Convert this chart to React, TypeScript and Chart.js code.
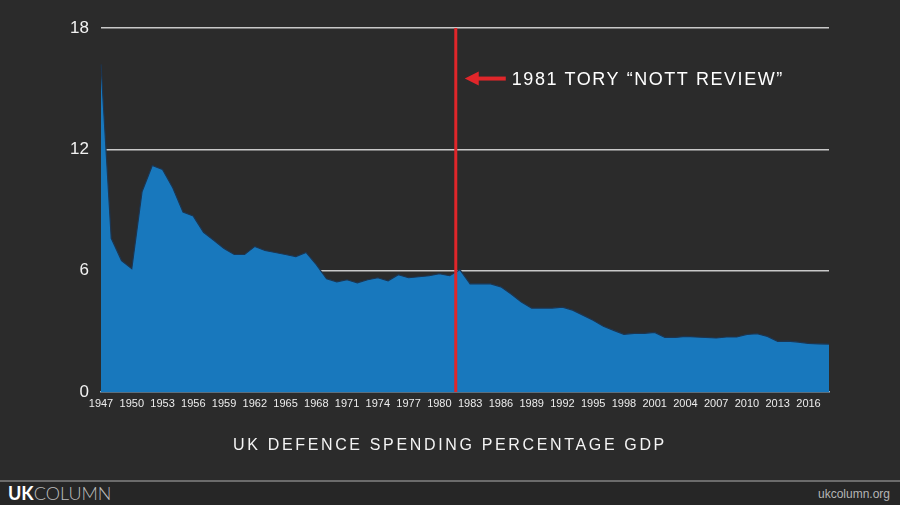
import React, { useEffect, useRef } from "react";
import { Chart, registerables } from "chart.js";

Chart.register(...registerables);

const years: string[] = [];
for (let y = 1947; y <= 2018; y++) years.push(String(y));

const spending: number[] = [
  16.2, 7.6, 6.5, 6.1, 9.9, 11.2, 11.0, 10.1, 8.9, 8.7,
  7.9, 7.5, 7.1, 6.8, 6.8, 7.2, 7.0, 6.9, 6.8, 6.7,
  6.9, 6.3, 5.6, 5.45, 5.55, 5.4, 5.55, 5.65, 5.5, 5.8,
  5.65, 5.7, 5.75, 5.85, 5.75, 6.05, 5.35, 5.35, 5.35, 5.2,
  4.85, 4.45, 4.15, 4.15, 4.15, 4.2, 4.05, 3.8, 3.55, 3.25,
  3.05, 2.85, 2.9, 2.9, 2.95, 2.7, 2.7, 2.75, 2.72, 2.7,
  2.67, 2.72, 2.72, 2.85, 2.88, 2.75, 2.5, 2.52, 2.47, 2.4,
  2.38, 2.37,
];

const yTicks: number[] = [0, 6, 12, 18];
const markerYear = 1981.6;
const annotationText = "1981 TORY “NOTT REVIEW”";
const chartTitle = "UK DEFENCE SPENDING PERCENTAGE GDP";

const FONT = "'Liberation Sans', Arial, Helvetica, sans-serif";

const annotationPlugin = {
  id: "nottReview",
  afterDatasetsDraw(chart: any) {
    const { ctx, chartArea, scales } = chart;
    const x = scales.x.getPixelForValue(markerYear - 1947);
    ctx.save();
    ctx.strokeStyle = "#e0262a";
    ctx.lineWidth = 3;
    ctx.beginPath();
    ctx.moveTo(x, chartArea.top);
    ctx.lineTo(x, chartArea.bottom);
    ctx.stroke();

    const ay = scales.y.getPixelForValue(15.5);
    ctx.fillStyle = "#e0262a";
    ctx.strokeStyle = "#e0262a";
    ctx.lineWidth = 4;
    ctx.beginPath();
    ctx.moveTo(x + 20, ay);
    ctx.lineTo(x + 50, ay);
    ctx.stroke();
    ctx.beginPath();
    ctx.moveTo(x + 9, ay);
    ctx.lineTo(x + 23, ay - 7);
    ctx.lineTo(x + 23, ay + 7);
    ctx.closePath();
    ctx.fill();

    ctx.fillStyle = "#ffffff";
    ctx.font = `18px ${FONT}`;
    (ctx as any).letterSpacing = "1.55px";
    ctx.textBaseline = "middle";
    ctx.textAlign = "left";
    ctx.fillText(annotationText, x + 56, ay + 1);
    ctx.restore();
  },
};

export default function App() {
  const canvasRef = useRef<HTMLCanvasElement | null>(null);

  useEffect(() => {
    const canvas = canvasRef.current;
    if (!canvas) return;
    const chart = new Chart(canvas, {
      type: "line",
      data: {
        labels: years,
        datasets: [
          {
            data: spending,
            fill: "origin",
            backgroundColor: "#1878bd",
            borderColor: "#1d3550",
            borderWidth: 1.2,
            pointRadius: 0,
            tension: 0,
          },
        ],
      },
      options: {
        responsive: false,
        animation: false,
        events: [],
        layout: { padding: { left: 0, right: 71, top: 28, bottom: 0 } },
        plugins: {
          legend: { display: false },
          tooltip: { enabled: false },
          title: { display: false },
        },
        scales: {
          x: {
            type: "category",
            offset: false,
            grid: { display: false, drawTicks: false },
            border: { display: true, color: "#8fb3cf", width: 1.5 },
            ticks: {
              autoSkip: false,
              maxRotation: 0,
              color: "#ececec",
              padding: 5,
              font: { size: 11, family: FONT },
              callback: (_v: any, i: number) =>
                (Number(years[i]) - 1947) % 3 === 0 && Number(years[i]) <= 2016 ? years[i] : "",
            },
            afterFit: (s: any) => {
              s.height = 113;
            },
          },
          y: {
            min: 0,
            max: 18,
            afterBuildTicks: (s: any) => {
              s.ticks = yTicks.map((v) => ({ value: v }));
            },
            grid: {
              color: (c: any) => (c.tick && c.tick.value === 0 ? "rgba(0,0,0,0)" : "#c9c9c9"),
              lineWidth: 1.5,
              drawTicks: false,
            },
            border: { display: false },
            ticks: {
              color: "#f2f2f2",
              padding: 12,
              font: { size: 17, family: FONT },
            },
            afterFit: (s: any) => {
              s.width = 101;
            },
          },
        },
      },
      plugins: [annotationPlugin],
    });
    return () => chart.destroy();
  }, []);

  return (
    <div
      style={{
        position: "fixed",
        left: 0,
        top: 0,
        width: 900,
        height: 505,
        background: "#2b2b2b",
        overflow: "hidden",
        fontFamily: FONT,
      }}
    >
      <canvas ref={canvasRef} width={900} height={505} style={{ position: "absolute", left: 0, top: 0 }} />
      <div
        style={{
          position: "absolute",
          left: 0,
          width: 900,
          top: 434,
          textAlign: "center",
          color: "#f4f4f4",
          fontSize: 16,
          letterSpacing: "2.65px",
          lineHeight: "22px",
        }}
      >
        {chartTitle}
      </div>
      <div
        style={{
          position: "absolute",
          left: 0,
          top: 480,
          width: 900,
          height: 2,
          background: "#6b6b6b",
        }}
      />
      <div
        style={{
          position: "absolute",
          left: 0,
          top: 482,
          width: 900,
          height: 23,
          background: "#262626",
        }}
      />
      <div
        style={{
          position: "absolute",
          left: 8,
          top: 483,
          fontSize: 18,
          lineHeight: "20px",
          color: "#cfcfcf",
          fontFamily: "Lato, 'Open Sans', sans-serif",
        }}
      >
        <span style={{ fontWeight: 700, color: "#ffffff" }}>UK</span>
        <span style={{ fontWeight: 300, color: "#bdbdbd" }}>COLUMN</span>
      </div>
      <div
        style={{
          position: "absolute",
          right: 10,
          top: 486,
          fontSize: 12,
          lineHeight: "16px",
          color: "#b5b5b5",
        }}
      >
        ukcolumn.org
      </div>
    </div>
  );
}
